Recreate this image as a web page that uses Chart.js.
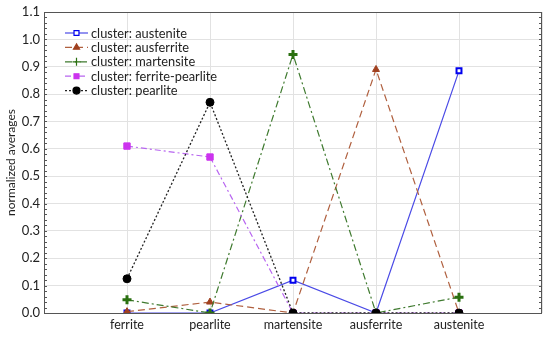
<!DOCTYPE html>
<html lang="en">
<head>
<meta charset="UTF-8">
<title>Normalized averages by cluster</title>
<script src="https://cdn.jsdelivr.net/npm/chart.js"></script>
<style>
  html, body { margin: 0; padding: 0; background: #fff; }
  #wrap { width: 550px; height: 338px; }
</style>
</head>
<body>
<div id="wrap"><canvas id="chart" width="550" height="338"></canvas></div>
<script>
// categories on the x axis (positions 1..5, with an empty slot each side)
const categories = ['ferrite', 'pearlite', 'martensite', 'ausferrite', 'austenite'];

// normalized averages per cluster
const austenite      = [0.0,   0.0,  0.12,  0.0,  0.885];
const ausferrite     = [0.005, 0.04, 0.0,   0.89, 0.0];
const martensite     = [0.048, 0.0,  0.945, 0.0,  0.058];
const ferritePearlite = [0.61, 0.57, 0.0,   0.0,  0.0];
const pearlite       = [0.125, 0.77, 0.0,   0.0,  0.0];

const yTicks = [0, 0.1, 0.2, 0.3, 0.4, 0.5, 0.6, 0.7, 0.8, 0.9, 1.0, 1.1];

const FONT = 'Lato, "Open Sans", sans-serif';

function pts(arr) {
  return arr.map((v, i) => ({ x: i + 1, y: v }));
}

// order: lower number is drawn on top, so pearlite sits over the rest along 0
const datasets = [
  { label: 'cluster: austenite', data: pts(austenite), order: 4, borderColor: '#4a4ae6', borderWidth: 1.2,
    pointStyle: 'rect', pointRadius: 3.5, pointBackgroundColor: '#ffffff', pointBorderColor: '#0000ee', pointBorderWidth: 2 },
  { label: 'cluster: ausferrite', data: pts(ausferrite), order: 3, borderColor: '#b0603f', borderWidth: 1.2, borderDash: [7, 4],
    pointStyle: 'triangle', pointRadius: 4, pointBackgroundColor: '#a0401f', pointBorderColor: '#a0401f', pointBorderWidth: 1 },
  { label: 'cluster: martensite', data: pts(martensite), order: 2, borderColor: '#3f7a2f', borderWidth: 1.2, borderDash: [7, 3, 2, 3],
    pointStyle: 'cross', pointRadius: 4.5, pointBackgroundColor: '#2a7010', pointBorderColor: '#2a7010', pointBorderWidth: 3 },
  { label: 'cluster: ferrite-pearlite', data: pts(ferritePearlite), order: 1, borderColor: '#b866f0', borderWidth: 1.2, borderDash: [6, 3, 2, 3],
    pointStyle: 'rect', pointRadius: 4.5, pointBackgroundColor: '#cc33ee', pointBorderColor: '#cc33ee', pointBorderWidth: 1 },
  { label: 'cluster: pearlite', data: pts(pearlite), order: 0, borderColor: '#222222', borderWidth: 1.3, borderDash: [2, 2],
    pointStyle: 'circle', pointRadius: 4, pointBackgroundColor: '#000000', pointBorderColor: '#000000', pointBorderWidth: 1 }
];

// legend drawn inside the plot, upper left, with line + marker samples
const insideLegend = {
  id: 'insideLegend',
  afterDraw(chart) {
    const ctx = chart.ctx;
    const x0 = chart.chartArea.left + 21;
    const y0 = chart.chartArea.top + 21;
    const step = 14.4;
    ctx.save();
    chart.data.datasets.forEach((ds, i) => {
      const y = y0 + i * step;
      ctx.strokeStyle = ds.borderColor;
      ctx.lineWidth = 1.2;
      ctx.setLineDash(ds.borderDash || []);
      ctx.beginPath();
      ctx.moveTo(x0, y);
      ctx.lineTo(x0 + 23, y);
      ctx.stroke();
      ctx.setLineDash([]);
      ctx.fillStyle = ds.pointBackgroundColor;
      ctx.strokeStyle = ds.pointBorderColor;
      const r = ds.pointStyle === 'cross' ? 4 : Math.min(ds.pointRadius, 3.5);
      Chart.helpers.drawPoint(ctx, {
        pointStyle: ds.pointStyle, radius: r, borderWidth: ds.pointStyle === 'cross' ? 2 : ds.pointBorderWidth, rotation: 0
      }, x0 + 11.5, y);
      ctx.fillStyle = '#222';
      ctx.font = '12.8px ' + FONT;
      ctx.textBaseline = 'middle';
      ctx.textAlign = 'left';
      ctx.fillText(ds.label, x0 + 26, y + 0.5);
    });
    ctx.restore();
  }
};

// frame and small inward ticks on left and right edges
const frame = {
  id: 'frame',
  afterDraw(chart) {
    const { ctx, chartArea: a } = chart;
    const ys = chart.scales.y;
    ctx.save();
    ctx.strokeStyle = '#555';
    ctx.lineWidth = 1;
    ctx.strokeRect(a.left + 0.5, a.top + 0.5, a.right - a.left - 1, a.bottom - a.top);
    for (let v = 0; v <= 1.1001; v += 0.02) {
      const y = Math.round(ys.getPixelForValue(v)) + 0.5;
      ctx.beginPath();
      ctx.moveTo(a.left, y); ctx.lineTo(a.left + 3, y);
      ctx.moveTo(a.right, y); ctx.lineTo(a.right - 3, y);
      ctx.stroke();
    }
    ctx.restore();
  }
};

new Chart(document.getElementById('chart'), {
  type: 'line',
  data: { datasets: datasets },
  options: {
    responsive: false,
    animation: false,
    layout: { padding: { top: 12, right: 8, left: 4, bottom: 0 } },
    plugins: {
      legend: { display: false },
      tooltip: { enabled: false }
    },
    scales: {
      x: {
        type: 'linear', min: 0, max: 6,
        afterFit: s => { s.height = 25; },
        afterBuildTicks: s => { s.ticks = [0, 1, 2, 3, 4, 5, 6].map(v => ({ value: v })); },
        ticks: {
          autoSkip: false, maxRotation: 0, padding: 4,
          color: '#222', font: { family: FONT, size: 12.5 },
          callback: v => categories[v - 1] || ''
        },
        grid: { color: '#e2e2e2', drawTicks: false },
        border: { display: false }
      },
      y: {
        min: 0, max: 1.1,
        afterFit: s => { s.width = 40; },
        afterBuildTicks: s => { s.ticks = yTicks.map(v => ({ value: v })); },
        ticks: {
          padding: 4, color: '#222', font: { family: FONT, size: 13 },
          callback: v => v.toFixed(1)
        },
        title: { display: true, text: 'normalized averages', color: '#222', font: { family: FONT, size: 12 }, padding: 0 },
        grid: { color: '#e2e2e2', drawTicks: false },
        border: { display: false }
      }
    }
  },
  plugins: [insideLegend, frame]
});
</script>
</body>
</html>
